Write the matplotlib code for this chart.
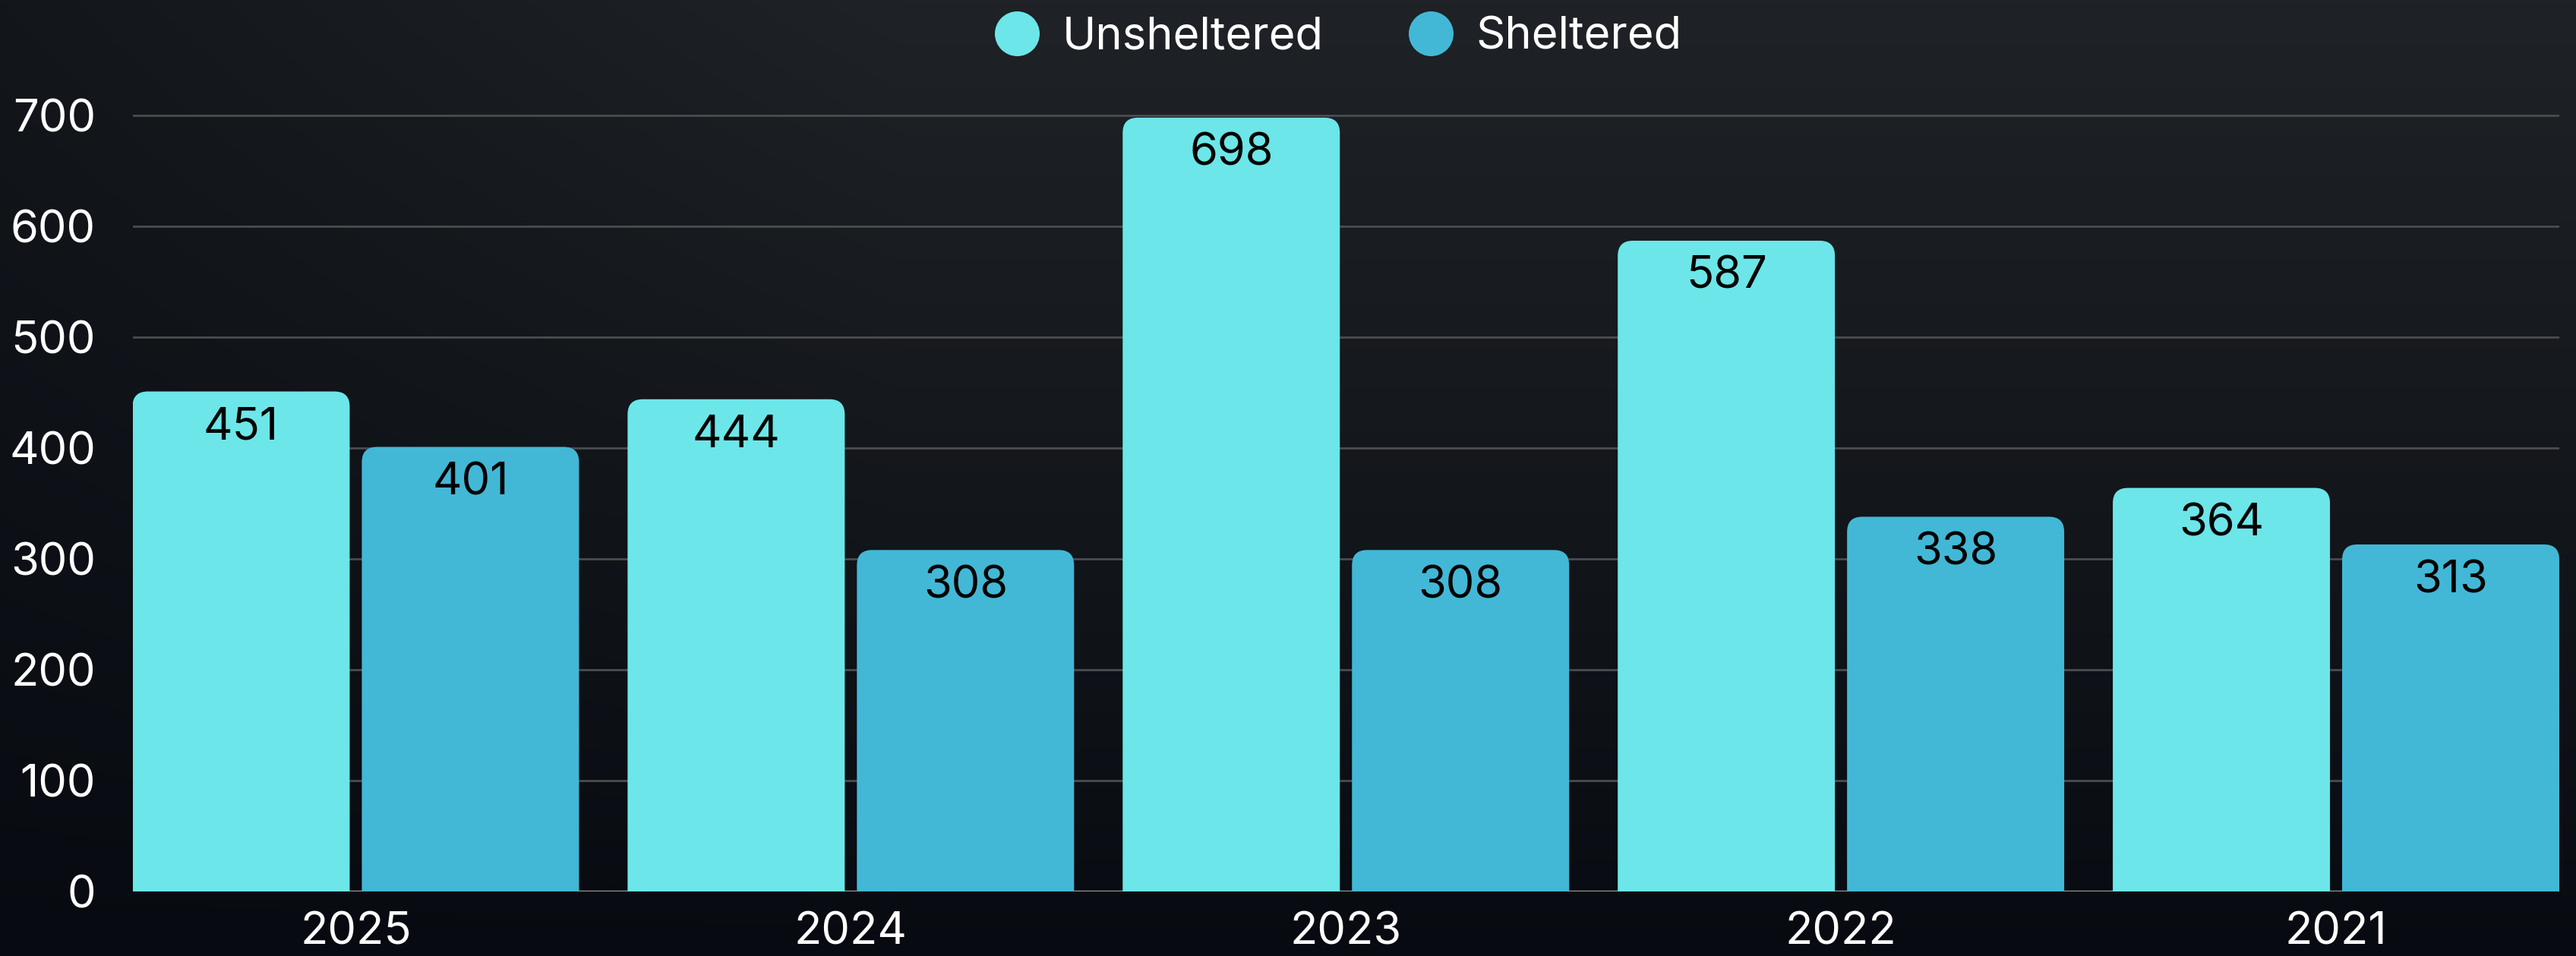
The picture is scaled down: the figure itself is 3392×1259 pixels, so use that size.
import numpy as np
import matplotlib
matplotlib.use("Agg")
import matplotlib.pyplot as plt
from matplotlib.path import Path
from matplotlib.patches import PathPatch
from matplotlib.lines import Line2D

# ---- data ----
years = ["2025", "2024", "2023", "2022", "2021"]
unsheltered = [451, 444, 698, 587, 364]
sheltered = [401, 308, 308, 338, 313]
series_names = ["Unsheltered", "Sheltered"]
yticks = [0, 100, 200, 300, 400, 500, 600, 700]

# ---- style ----
plt.rcParams['font.family'] = ['Inter', 'DejaVu Sans']
C_UNSH = "#6ce6e8"
C_SH = "#42b8d6"
W_PX, H_PX, DPI = 3392, 1259, 200
FS = 21.5

fig = plt.figure(figsize=(W_PX / DPI, H_PX / DPI), dpi=DPI)

# background gradient
bg = fig.add_axes([0, 0, 1, 1], zorder=-10)
ny, nx = 300, 600
yy, xx = np.mgrid[0:1:ny * 1j, 0:1:nx * 1j]
light = np.array([31, 34, 38]) / 255.0
dark = np.array([7, 10, 16]) / 255.0
fx = 0.5 + 0.5 * np.clip(xx / 0.35, 0, 1)
f = np.clip((1 - yy) ** 0.9 * fx, 0, 1)
img = dark[None, None, :] + (light - dark)[None, None, :] * f[:, :, None]
bg.imshow(img, aspect='auto', extent=(0, 1, 0, 1), origin='upper')
bg.axis('off')

left, right = 174.5 / W_PX, 3370 / W_PX
bottom = 1 - 1174 / H_PX
ymax = 760
top_px = 1174 - ymax * 1.46
top = 1 - top_px / H_PX
ax = fig.add_axes([left, bottom, right - left, top - bottom])
ax.set_facecolor('none')

bw = 286 / 652
off = 151 / 652
x = np.arange(len(years))
b1 = ax.bar(x - off, unsheltered, width=bw, color=C_UNSH, zorder=3)
b2 = ax.bar(x + off, sheltered, width=bw, color=C_SH, zorder=3)

xl = off + bw / 2
ax.set_xlim(-xl, len(years) - 1 + xl)
ax.set_ylim(0, ymax)

# rounded top corners
ax_w_px = (right - left) * W_PX
ax_h_px = (top - bottom) * H_PX
px_per_x = ax_w_px / (2 * xl + len(years) - 1)
px_per_y = ax_h_px / ymax
r_px = 20
rx, ry = r_px / px_per_x, r_px / px_per_y
for bars in (b1, b2):
    for p in bars:
        x0, w, h = p.get_x(), p.get_width(), p.get_height()
        verts = [(x0, 0), (x0, h - ry), (x0, h), (x0 + rx, h),
                 (x0 + w - rx, h), (x0 + w, h), (x0 + w, h - ry),
                 (x0 + w, 0), (x0, 0)]
        codes = [Path.MOVETO, Path.LINETO, Path.CURVE3, Path.CURVE3,
                 Path.LINETO, Path.CURVE3, Path.CURVE3, Path.LINETO,
                 Path.CLOSEPOLY]
        ax.add_patch(PathPatch(Path(verts, codes), facecolor=p.get_facecolor(),
                               edgecolor='none', zorder=3))
        p.set_visible(False)
        ax.annotate(f"{int(h)}", (x0 + w / 2, h), xytext=(0, -63 * 72 / DPI),
                    textcoords='offset points', ha='center', va='baseline',
                    fontsize=FS, color='black', zorder=5)

# grid
ax.set_yticks(yticks)
for yv in yticks[1:]:
    ax.axhline(yv, color='#4b4c50', lw=1.0, zorder=1)
ax.axhline(0, color='#9a9a9a', lw=1.2, zorder=1)

for s in ax.spines.values():
    s.set_visible(False)
ax.set_xticks(x)
ax.set_xticklabels(years)
ax.tick_params(axis='both', length=0, labelsize=FS, labelcolor='white')
ax.tick_params(axis='y', pad=48.5 * 72 / DPI)
ax.tick_params(axis='x', pad=26 * 72 / DPI)

# legend
handles = [Line2D([], [], marker='o', ls='none', markersize=59 * 72 / DPI,
                  markerfacecolor=c, markeredgecolor='none')
           for c in (C_UNSH, C_SH)]
fig.legend(handles, series_names, loc='center', ncol=2,
           bbox_to_anchor=(1762 / W_PX, 1 - 49 / H_PX), frameon=False,
           fontsize=FS, labelcolor='white', handlelength=1.0,
           handletextpad=0.5, columnspacing=1.85, borderpad=0, borderaxespad=0)

fig.savefig("out.png", dpi=DPI)
